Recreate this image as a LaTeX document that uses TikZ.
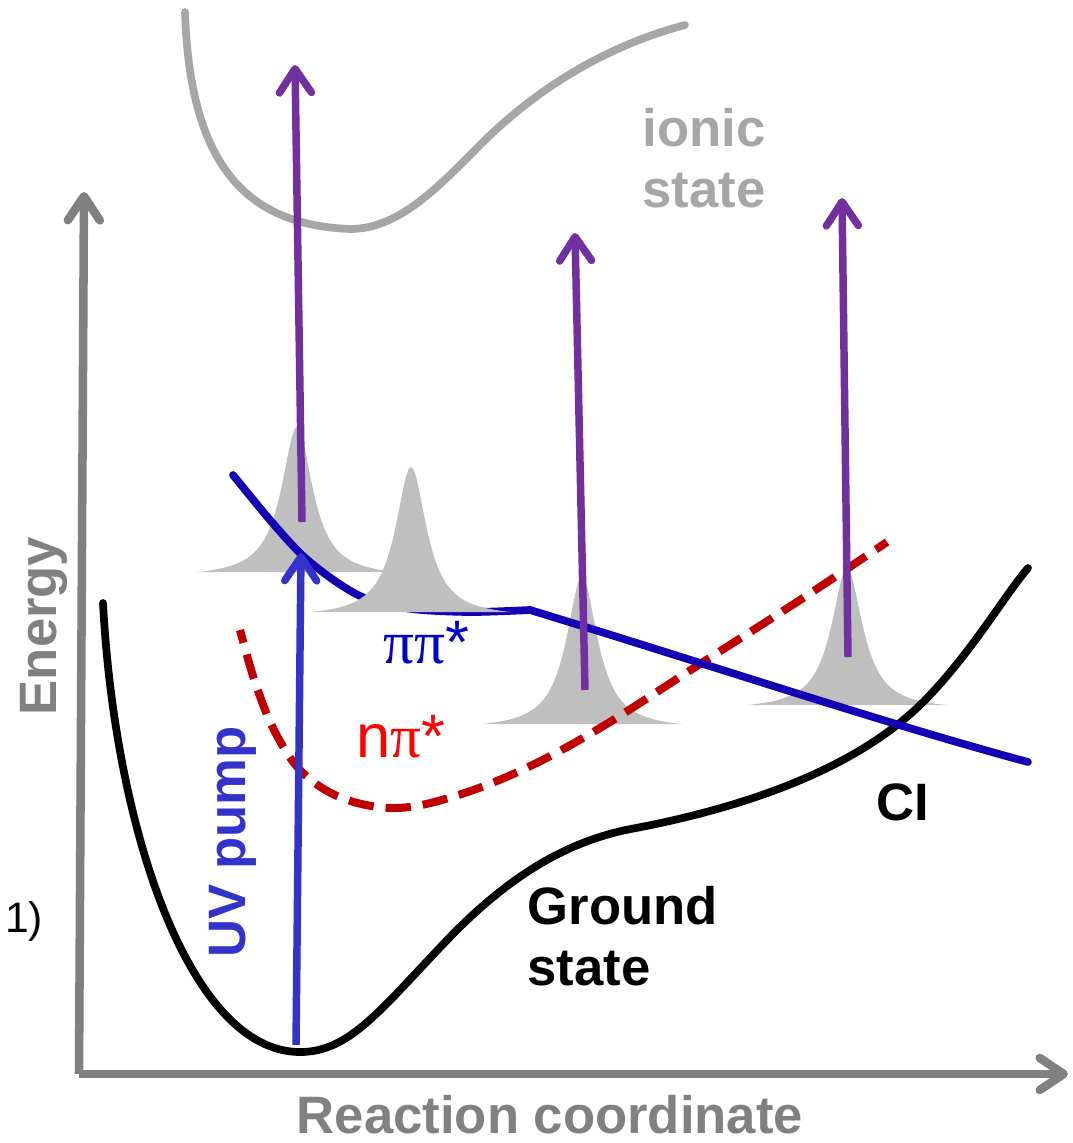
\documentclass[tikz,border=0pt]{standalone}
\usepackage{fontspec}
\setmainfont{Liberation Sans}
\newfontfamily\grkfont{Liberation Serif}
\usetikzlibrary{arrows.meta}

\definecolor{axisgray}{HTML}{808080}
\definecolor{ionicgray}{HTML}{A6A6A6}
\definecolor{packetgray}{HTML}{BFBFBF}
\definecolor{pipiblue}{HTML}{1400B4}
\definecolor{pipitext}{HTML}{0000CC}
\definecolor{npired}{HTML}{C00000}
\definecolor{npitext}{HTML}{FF0000}
\definecolor{probepurple}{HTML}{7030A0}
\definecolor{pumpblue}{HTML}{3333CC}

\newcommand\labelfont{\fontsize{39.5}{46}\selectfont\bfseries}
\newcommand\statefont{\fontsize{46}{50}\selectfont}

\begin{document}
\begin{tikzpicture}[x=0.75pt,y=-0.75pt,
  barb/.style={-{Straight Barb[length=18pt,width=24pt,round]}},
  axis/.style={draw=axisgray, line width=6.4pt, barb},
  surface/.style={line width=5.8pt, line cap=round},
  probe/.style={draw=probepurple, line width=5.6pt, barb},
  pump/.style={draw=pumpblue, line width=5.6pt, barb},
  packet/.style={fill=packetgray}]
\useasboundingbox (0,0) rectangle (1073,1143);

% axes
\coordinate (org) at (79,1074);
\coordinate (etop) at (84,192);
\coordinate (xend) at (1068,1074);
\draw[axis] (org) -- (etop);
\draw[axis] (org) -- (xend);

% wave packets under the curves
\fill[packet] plot[domain=-100:100, samples=81, smooth] ({297+\x}, {572-145*(361/(361+\x*\x)-0.03484)/0.96516});
\fill[packet] plot[domain=-100:100, samples=81, smooth] ({582+\x}, {724-147*(361/(361+\x*\x)-0.03484)/0.96516});
\fill[packet] plot[domain=-100:100, samples=81, smooth] ({847+\x}, {705-137*(361/(361+\x*\x)-0.03484)/0.96516});

% ionic state
\draw[surface, ionicgray] (185,12) .. controls (190,170) and (250,225) .. (350,229)
  .. controls (400,229) and (440,185) .. (480,145)
  .. controls (540,85) and (610,45) .. (685,25);

% ground state
\draw[surface, black] (103,603) .. controls (115,830) and (190,1052) .. (300,1052)
  .. controls (350,1052) and (380,1010) .. (450,937)
  .. controls (520,865) and (580,838) .. (636,828)
  .. controls (740,808) and (860,770) .. (930,695)
  .. controls (975,647) and (1005,595) .. (1028,568);

% n pi* state
\draw[line width=6pt, npired, dash pattern=on 19pt off 9pt, dash phase=9pt] plot[smooth, tension=0.6] coordinates {(240,630) (255,682) (275,732) (302,772) (342,798) (395,808) (452,797) (522,770) (600,728) (700,664) (800,600) (887,542)};

% pi pi* state
\draw[surface, pipiblue] plot[smooth, tension=0.5] coordinates {(233,475) (270,520) (302,555) (335,581) (367,599) (412,609) (470,612) (530,610)} .. controls (720,668) and (880,722) .. (1028,762);

% second packet lies over the curve
\fill[packet] plot[domain=-100:100, samples=81, smooth] ({411+\x}, {612-145*(361/(361+\x*\x)-0.03484)/0.96516});

% pump and probe arrows
\coordinate (uv0) at (296,1045);
\coordinate (uv1) at (301,553);
\draw[pump] (uv0) -- (uv1);
\coordinate (pr1a) at (302,522);
\coordinate (pr1b) at (295,65);
\coordinate (pr2a) at (585,690);
\coordinate (pr2b) at (575,233);
\coordinate (pr3a) at (848,657);
\coordinate (pr3b) at (842,198);
\draw[probe] (pr1a) -- (pr1b);
\draw[probe] (pr2a) -- (pr2b);
\draw[probe] (pr3a) -- (pr3b);

% labels
\node[font=\labelfont, text=ionicgray, anchor=base] (ionic) at (704,146) {ionic};
\node[font=\labelfont, text=ionicgray, anchor=base] (ionicst) at (704,207) {state};
\node[font=\labelfont, text=axisgray, anchor=base, inner sep=0pt] (xlab) at (550,1133) {Reaction coordinate};
\node[font=\labelfont, text=axisgray, anchor=base, rotate=90] (ylab) at (56,626) {Energy};
\node[font=\labelfont, text=pumpblue, anchor=base, rotate=90] (uvlab) at (245,842) {UV pump};
\node[font=\labelfont, text=black, anchor=base west] (ground) at (523,924) {Ground};
\node[font=\labelfont, text=black, anchor=base west] (groundst) at (523,985) {state};
\node[font=\labelfont, text=black, anchor=base west] (ci) at (872,820) {CI};
\node[font=\fontsize{32}{36}\selectfont, anchor=base west, inner sep=0pt] (panel) at (5,932) {1)};
\node[font=\statefont, text=pipitext, anchor=base west, inner sep=0pt] (pipi) at (383,663) {{\grkfont ππ}*};
\node[font=\statefont, text=npitext, anchor=base west, inner sep=0pt] (npi) at (356,757) {n{\grkfont π}*};
\end{tikzpicture}
\end{document}
